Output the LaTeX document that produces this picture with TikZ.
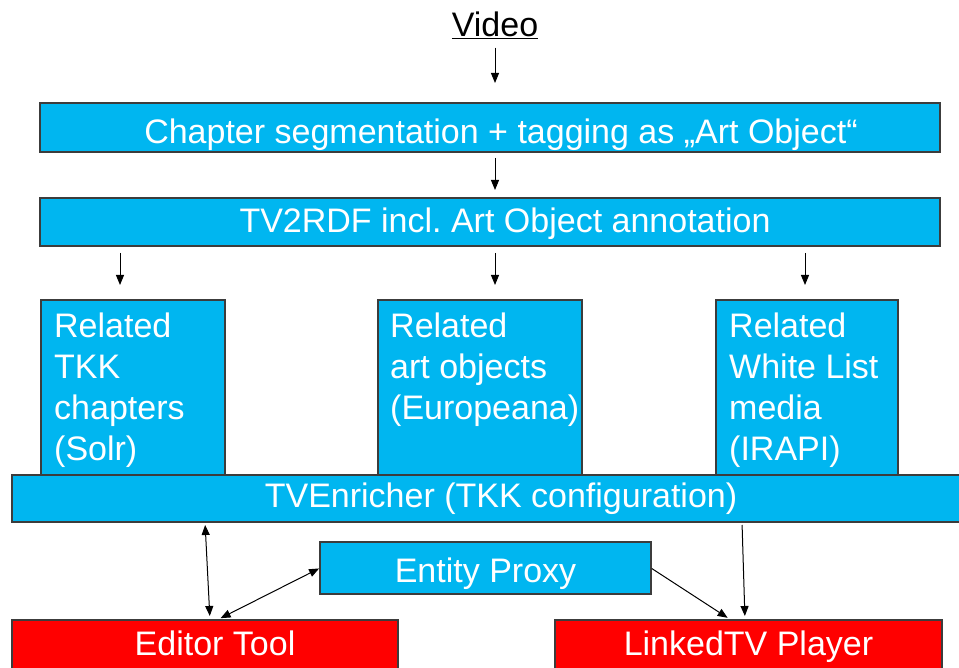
\documentclass[tikz,border=0pt]{standalone}
\usepackage{fontspec}
\setmainfont{Liberation Sans}
\usetikzlibrary{arrows.meta,calc}
\definecolor{boxcyan}{RGB}{0,182,240}
\definecolor{boxred}{RGB}{255,0,0}
\definecolor{edgegray}{RGB}{60,60,60}
\frenchspacing
\begin{document}
\begin{tikzpicture}[x=1pt,y=-1pt,
  box/.style={draw=edgegray, line width=1.2pt, fill=boxcyan, text=white,
    font=\fontsize{34}{41}\selectfont, anchor=north west, inner sep=0pt, outer sep=0pt,
    text depth=0pt},
  redbox/.style={box, fill=boxred},
  reltext/.style={text=white, font=\fontsize{34}{41}\selectfont, align=left,
    anchor=north west, inner sep=0pt},
  tip/.tip={Triangle[length=10pt,width=8pt]},
  arr/.style={-tip, line width=1pt},
  dbl/.style={tip-tip, line width=1pt}]
\clip (0,0) rectangle (959,668);
\fill[white] (0,0) rectangle (959,668);

% Video
\node[font=\fontsize{34}{41}\selectfont, inner sep=0pt] (video) at (495,25) {\underline{Video}};

% top boxes
\node[box, minimum width=900pt, minimum height=49pt, text height=32pt] (b1) at (40,103)
  {\hspace*{22pt}Chapter segmentation + tagging as „Art Object“};
\node[box, minimum width=900pt, minimum height=48pt, text height=22pt] (b2) at (40,198)
  {\hspace*{30pt}TV2RDF incl. Art Object annotation};

% related boxes
\node[box, minimum width=184pt, minimum height=176pt] (r1) at (41,300) {};
\node[box, minimum width=204pt, minimum height=176pt] (r2) at (378,300) {};
\node[box, minimum width=182pt, minimum height=176pt] (r3) at (716,300) {};
\node[reltext] (t1) at ($(r1.north west)+(13,13)$) {Related\\TKK\\chapters\\(Solr)};
\node[reltext] (t2) at ($(r2.north west)+(12,13)$) {Related\\art objects\\(Europeana)};
\node[reltext] (t3) at ($(r3.north west)+(13,13)$) {Related\\White List\\media\\(IRAPI)};

% enricher
\node[box, minimum width=955pt, minimum height=47pt, text height=18pt] (tve) at (12,475)
  {\hspace*{23pt}TVEnricher (TKK configuration)};

% entity proxy
\node[box, minimum width=331pt, minimum height=52pt, text height=28pt] (ep) at (320,542) {Entity Proxy};

% red boxes
\node[redbox, minimum width=386pt, minimum height=49pt, text height=21pt] (ed) at (12,620)
  {\hspace*{20pt}Editor Tool};
\node[redbox, minimum width=387pt, minimum height=49pt, text height=21pt] (pl) at (555,620)
  {LinkedTV Player};

% arrows top
\draw[arr, shorten <=9pt, shorten >=20pt] (video.south) -- (b1.north -| video.south);
\draw[arr, shorten <=6pt, shorten >=8pt] (b1.south -| video.south) -- (b2.north -| video.south);
\coordinate (c1) at (120,0);
\coordinate (c3) at (805,0);
\draw[arr, shorten <=7pt, shorten >=15pt] (b2.south -| c1) -- (r1.north -| c1);
\draw[arr, shorten <=7pt, shorten >=15pt] (b2.south -| video.south) -- (r2.north -| video.south);
\draw[arr, shorten <=7pt, shorten >=15pt] (b2.south -| c3) -- (r3.north -| c3);

% arrows bottom
\draw[dbl, shorten <=3pt, shorten >=4pt] ([xshift=-284.5pt]tve.south) -- ([xshift=5pt]ed.north);
\draw[dbl, shorten <=1pt, shorten >=4pt] (ep.west) -- ([xshift=12pt]ed.north);
\draw[arr, shorten <=1pt, shorten >=4pt] (ep.east) -- ([xshift=-17.5pt]pl.north);
\draw[arr, shorten <=3pt, shorten >=4pt] ([xshift=252.5pt]tve.south) -- ([xshift=-3.5pt]pl.north);
\end{tikzpicture}
\end{document}
